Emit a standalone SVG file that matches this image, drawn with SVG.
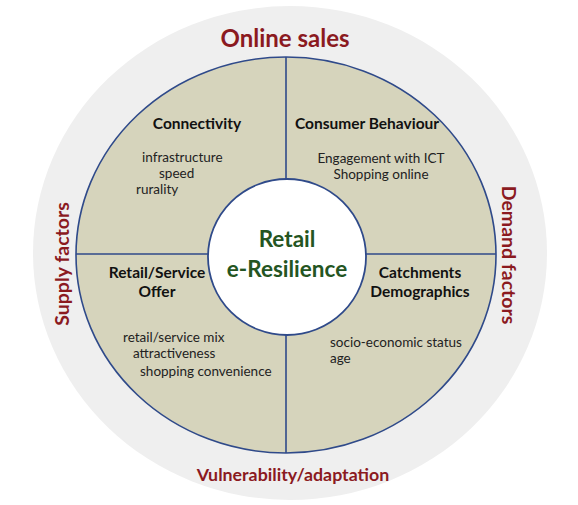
<svg xmlns="http://www.w3.org/2000/svg" width="578" height="505" viewBox="0 0 578 505">
<style>
.ring{fill:#efefef;}
.quad{fill:#d6d4bc;stroke:#2f4a8a;stroke-width:1.6;}
.div{stroke:#2f4a8a;stroke-width:1.6;fill:none;}
.core{fill:#ffffff;stroke:#2f4a8a;stroke-width:1.8;}
text{font-family:Lato,"Open Sans","Liberation Sans",sans-serif;}
.h{font-size:15.5px;font-weight:bold;fill:#111;}
.t{font-size:13.5px;fill:#222;}
.outer{font-weight:bold;fill:#8b1a1f;}
.center{font-size:22.5px;font-weight:bold;fill:#245522;text-anchor:middle;}
</style>
<g id="outer-ring">
<ellipse class="ring" cx="290" cy="253" rx="257" ry="247"/>
</g>
<g id="inner-disc">
<ellipse class="quad" cx="286" cy="255" rx="210" ry="198"/>
</g>
<g id="connectors">
<line class="div" x1="286" y1="57" x2="286" y2="453"/>
<line class="div" x1="76" y1="254" x2="496" y2="254"/>
</g>
<g id="core">
<ellipse class="core" cx="287" cy="257" rx="79" ry="78"/>
<text class="center" x="287" y="247">Retail</text>
<text class="center" x="287" y="277">e-Resilience</text>
</g>
<g id="connectivity">
<text class="h" x="197" y="129" text-anchor="middle">Connectivity</text>
<text class="t" x="142" y="162">infrastructure</text>
<text class="t" x="159" y="178">speed</text>
<text class="t" x="136" y="194">rurality</text>
</g>
<g id="consumer-behaviour">
<text class="h" x="367" y="129" text-anchor="middle">Consumer Behaviour</text>
<text class="t" x="381" y="163" text-anchor="middle">Engagement with ICT</text>
<text class="t" x="381" y="179" text-anchor="middle">Shopping online</text>
</g>
<g id="retail-service-offer">
<text class="h" x="157" y="278" text-anchor="middle">Retail/Service</text>
<text class="h" x="157" y="297" text-anchor="middle">Offer</text>
<text class="t" x="123" y="342">retail/service mix</text>
<text class="t" x="133" y="358">attractiveness</text>
<text class="t" x="140" y="376">shopping convenience</text>
</g>
<g id="catchments">
<text class="h" x="420" y="278" text-anchor="middle">Catchments</text>
<text class="h" x="420" y="297" text-anchor="middle">Demographics</text>
<text class="t" x="330" y="347">socio-economic status</text>
<text class="t" x="330" y="363">age</text>
</g>
<g id="online-sales">
<text class="outer" x="285" y="47" font-size="24" text-anchor="middle">Online sales</text>
</g>
<g id="vulnerability">
<text class="outer" x="293" y="481" font-size="17.8" text-anchor="middle">Vulnerability/adaptation</text>
</g>
<g id="supply-factors">
<text class="outer" font-size="19.5" text-anchor="middle" transform="translate(69,264) rotate(-90)">Supply factors</text>
</g>
<g id="demand-factors">
<text class="outer" font-size="19.5" text-anchor="middle" transform="translate(502,255) rotate(90)">Demand factors</text>
</g>
</svg>
